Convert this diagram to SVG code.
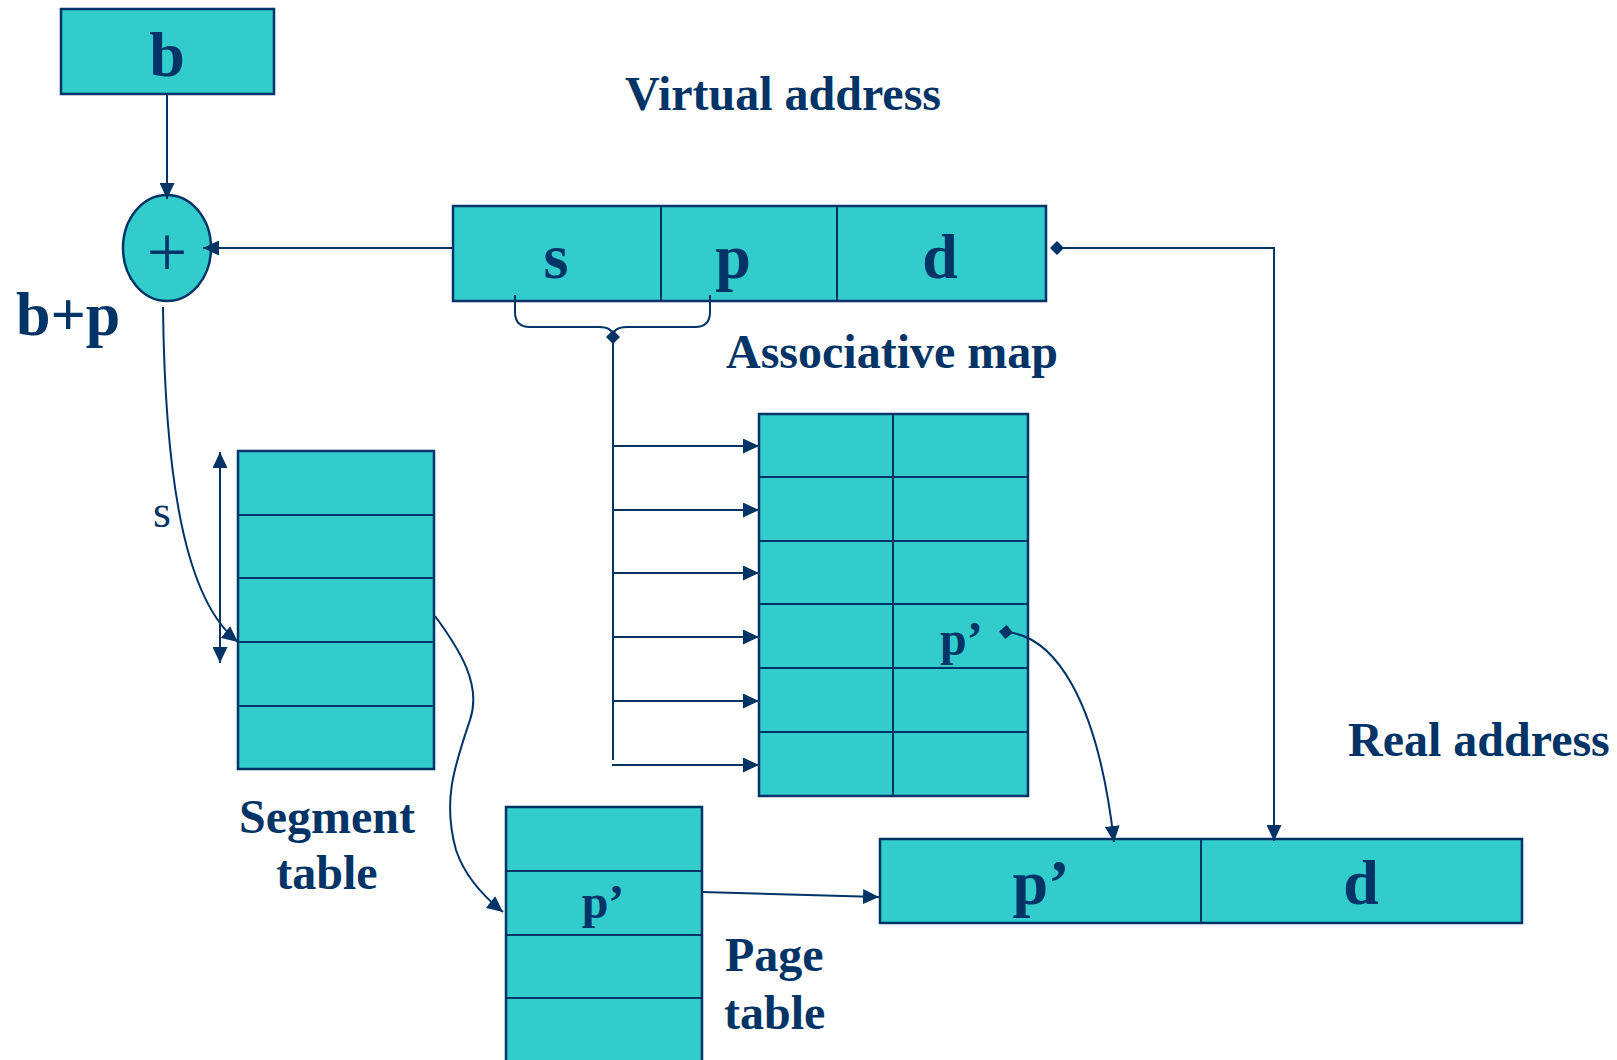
<svg xmlns="http://www.w3.org/2000/svg" width="1617" height="1060" viewBox="0 0 1617 1060">
<defs>
<style>
.box{fill:#33CCCC;stroke:#003366;stroke-width:2.5}
.ln{fill:none;stroke:#003366;stroke-width:2}
.t{font-family:"Liberation Serif","Times New Roman",serif;font-weight:bold;fill:#003366}
.big{font-size:64px;text-anchor:middle}
.lab{font-size:48px}
.mid{text-anchor:middle}
</style>
<marker id="arr" markerUnits="userSpaceOnUse" markerWidth="16" markerHeight="15" refX="16" refY="7.5" orient="auto-start-reverse"><path d="M0,0 L16,7.5 L0,15 z" fill="#003366"/></marker>
<marker id="dia" markerUnits="userSpaceOnUse" markerWidth="14" markerHeight="14" refX="7" refY="7" orient="auto"><path d="M0,7 L7,0 L14,7 L7,14 z" fill="#003366"/></marker>
</defs>
<rect width="1617" height="1060" fill="#fff"/>

<g id="b-box">
<rect class="box" x="61" y="9" width="213" height="85"/>
<text class="t big" x="167" y="76">b</text>
</g>

<g id="adder">
<ellipse class="box" cx="167" cy="248" rx="44" ry="53"/>
<text x="167" y="276" font-family="Liberation Serif, serif" font-size="72" fill="#003366" text-anchor="middle">+</text>
</g>
<text id="bp-label" class="t" x="16" y="335" font-size="62">b+p</text>

<g id="virtual-address">
<text class="t lab" x="625" y="110">Virtual address</text>
<rect class="box" x="453" y="206" width="593" height="95"/>
<line class="ln" x1="661" y1="206" x2="661" y2="301" stroke-width="2.5"/>
<line class="ln" x1="837" y1="206" x2="837" y2="301" stroke-width="2.5"/>
<text class="t big" x="556" y="278">s</text>
<text class="t big" x="733" y="278">p</text>
<text class="t big" x="940" y="278">d</text>
</g>

<g id="associative-map">
<text class="t lab" x="726" y="368">Associative map</text>
<rect class="box" x="759" y="414" width="269" height="382"/>
<g class="ln" stroke-width="2.5">
<line x1="893" y1="414" x2="893" y2="796"/>
<line x1="759" y1="477" x2="1028" y2="477"/>
<line x1="759" y1="541" x2="1028" y2="541"/>
<line x1="759" y1="604" x2="1028" y2="604"/>
<line x1="759" y1="668" x2="1028" y2="668"/>
<line x1="759" y1="732" x2="1028" y2="732"/>
</g>
<text class="t lab" x="940" y="655">p’</text>
</g>

<g id="segment-table">
<rect class="box" x="238" y="451" width="196" height="318"/>
<g class="ln" stroke-width="2.5">
<line x1="238" y1="515" x2="434" y2="515"/>
<line x1="238" y1="578" x2="434" y2="578"/>
<line x1="238" y1="642" x2="434" y2="642"/>
<line x1="238" y1="706" x2="434" y2="706"/>
</g>
<text class="t lab mid" x="327" y="833">Segment</text>
<text class="t lab mid" x="327" y="889">table</text>
</g>
<text id="s-label" x="153" y="527" font-family="Liberation Serif, serif" font-size="46" fill="#003366">s</text>

<g id="page-table">
<rect class="box" x="506" y="807" width="196" height="258"/>
<g class="ln" stroke-width="2.5">
<line x1="506" y1="871" x2="702" y2="871"/>
<line x1="506" y1="935" x2="702" y2="935"/>
<line x1="506" y1="998" x2="702" y2="998"/>
</g>
<text class="t lab mid" x="603" y="918">p’</text>
<text class="t lab" x="725" y="971">Page</text>
<text class="t lab" x="724" y="1029">table</text>
</g>

<g id="real-address">
<text class="t lab" x="1348" y="756">Real address</text>
<rect class="box" x="880" y="839" width="642" height="84"/>
<line class="ln" x1="1201" y1="839" x2="1201" y2="923" stroke-width="2.5"/>
<text class="t big" x="1041" y="904">p’</text>
<text class="t big" x="1361" y="904">d</text>
</g>

<g id="connectors" class="ln">
<line x1="167" y1="94" x2="167" y2="199" marker-end="url(#arr)"/>
<line x1="453" y1="248" x2="203" y2="248" marker-end="url(#arr)"/>
<polyline points="1057,248 1274,248 1274,841" marker-start="url(#dia)" marker-end="url(#arr)"/>
<path d="M515,295 L515,312 Q515,327 530,327 L599,327 Q613,327 613,337"/>
<path d="M710,295 L710,312 Q710,327 695,327 L627,327 Q613,327 613,337"/>
<line x1="613" y1="337" x2="613" y2="760" marker-start="url(#dia)"/>
<line x1="613" y1="446" x2="759" y2="446" marker-end="url(#arr)"/>
<line x1="613" y1="510" x2="759" y2="510" marker-end="url(#arr)"/>
<line x1="613" y1="573" x2="759" y2="573" marker-end="url(#arr)"/>
<line x1="613" y1="637" x2="759" y2="637" marker-end="url(#arr)"/>
<line x1="613" y1="701" x2="759" y2="701" marker-end="url(#arr)"/>
<line x1="612" y1="765" x2="759" y2="765" marker-end="url(#arr)"/>
<path d="M163,307 C165,480 185,600 238,642" marker-end="url(#arr)"/>
<line x1="220" y1="452" x2="220" y2="663" marker-start="url(#arr)" marker-end="url(#arr)"/>
<path d="M435,616 C460,650 482,685 470,720 C455,765 442,800 456,850 C466,880 488,900 503,912" marker-end="url(#arr)"/>
<path d="M1006,632 C1055,636 1098,700 1114,842" marker-start="url(#dia)" marker-end="url(#arr)"/>
<line x1="702" y1="892" x2="879" y2="897" marker-end="url(#arr)"/>
</g>
</svg>
